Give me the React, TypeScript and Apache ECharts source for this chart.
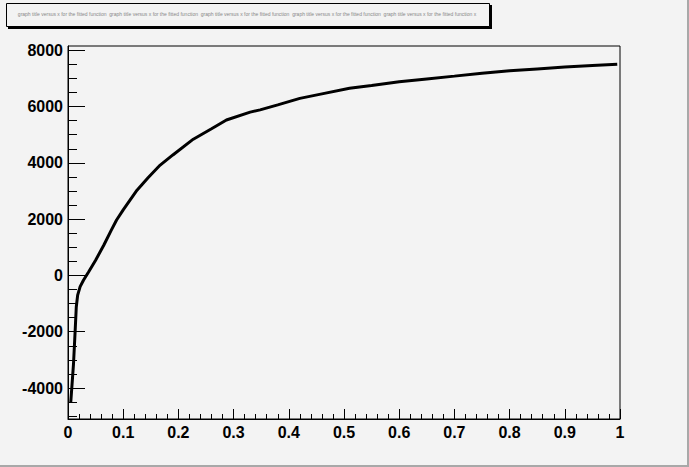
import React, { useEffect, useRef } from "react";
import * as echarts from "echarts";

const xValues = [
  0.005, 0.007, 0.010, 0.013, 0.015, 0.0175, 0.022, 0.028, 0.0375, 0.05, 0.065, 0.078, 0.088, 0.1,
  0.125, 0.145, 0.167, 0.19, 0.227, 0.26, 0.287, 0.33, 0.348, 0.38, 0.42, 0.46, 0.51, 0.55, 0.6,
  0.65, 0.7, 0.75, 0.8, 0.85, 0.9, 0.95, 0.995,
];
const yValues = [
  -4500, -3960, -3130, -1950, -1120, -700, -400, -170, 130, 540, 1080, 1590, 1970, 2330,
  3030, 3470, 3920, 4280, 4840, 5210, 5520, 5800, 5880, 6060, 6290, 6450, 6650, 6750, 6880,
  6980, 7080, 7185, 7270, 7335, 7400, 7455, 7505,
];
const yMajorTicks = [-4000, -2000, 0, 2000, 4000, 6000, 8000];
const yMinorTicks = [
  -5000, -4500, -3500, -3000, -2500, -1500, -1000, -500, 500, 1000, 1500, 2500, 3000, 3500,
  4500, 5000, 5500, 6500, 7000, 7500,
];
const titleText =
  "graph title versus x for the fitted function  graph title versus x for the fitted function  graph title versus x for the fitted function  graph title versus x for the fitted function  graph title versus x for the fitted function x";

const BG = "#f3f3f3";

export default function App() {
  const ref = useRef<HTMLDivElement>(null);
  useEffect(() => {
    if (!ref.current) return;
    const chart = echarts.init(ref.current, null, { renderer: "svg" });
    const labelFont = {
      fontFamily: "Liberation Sans, Arial, Helvetica, sans-serif",
      fontWeight: "bold" as const,
      fontSize: 16,
      color: "#000",
    };
    chart.setOption({
      animation: false,
      backgroundColor: BG,
      grid: {
        left: 68,
        right: 69,
        top: 46,
        bottom: 48,
        show: true,
        borderColor: "#000",
        borderWidth: 1,
        backgroundColor: "transparent",
      },
      xAxis: {
        type: "value",
        min: 0,
        max: 1,
        interval: 0.1,
        axisLine: { show: true, onZero: false, lineStyle: { color: "#000", width: 1 } },
        axisTick: { show: true, inside: true, length: 10, lineStyle: { color: "#000" } },
        minorTick: { show: true, splitNumber: 5, length: 5, lineStyle: { color: "#000" } },
        splitLine: { show: false },
        minorSplitLine: { show: false },
        axisLabel: {
          ...labelFont,
          margin: 5,
          formatter: (v: number) => String(Math.round(v * 10) / 10),
        },
      },
      yAxis: [
        {
          type: "value",
          min: -5100,
          max: 8150,
          position: "left",
          axisLine: { show: true, onZero: false, lineStyle: { color: "#000", width: 1 } },
          axisTick: {
            show: true,
            inside: true,
            length: 17,
            customValues: yMajorTicks,
            lineStyle: { color: "#000" },
          },
          splitLine: { show: false },
          axisLabel: {
            ...labelFont,
            margin: 5,
            customValues: yMajorTicks,
            formatter: (v: number) => String(v),
          },
        },
        {
          type: "value",
          min: -5100,
          max: 8150,
          position: "left",
          axisLine: { show: false, onZero: false },
          axisTick: {
            show: true,
            inside: true,
            length: 9,
            customValues: yMinorTicks,
            lineStyle: { color: "#000" },
          },
          splitLine: { show: false },
          axisLabel: { show: false },
        },
      ],
      series: [
        {
          type: "line",
          data: xValues.map((x, i) => [x, yValues[i]]),
          showSymbol: false,
          symbol: "none",
          lineStyle: { color: "#000", width: 3 },
          z: 5,
        },
      ],
      graphic: [
        { type: "rect", shape: { x: 0, y: 465, width: 689, height: 2 }, style: { fill: "#a8a8a8" }, silent: true },
        { type: "rect", shape: { x: 687, y: 0, width: 2, height: 467 }, style: { fill: "#a8a8a8" }, silent: true },
        { type: "rect", shape: { x: 8, y: 5, width: 484, height: 24 }, style: { fill: "#000" }, silent: true },
        {
          type: "rect",
          shape: { x: 6.5, y: 3.5, width: 483, height: 23 },
          style: { fill: BG, stroke: "#000", lineWidth: 1 },
          silent: true,
        },
        {
          type: "text",
          x: 247,
          y: 14,
          style: {
            text: titleText,
            fontSize: 5,
            fontFamily: "Liberation Sans, Arial, sans-serif",
            fill: "#888",
            align: "center",
            verticalAlign: "middle",
          },
          silent: true,
        },
      ],
    });
    return () => chart.dispose();
  }, []);
  return (
    <div
      ref={ref}
      style={{ position: "fixed", left: 0, top: 0, width: 689, height: 467 }}
    />
  );
}
